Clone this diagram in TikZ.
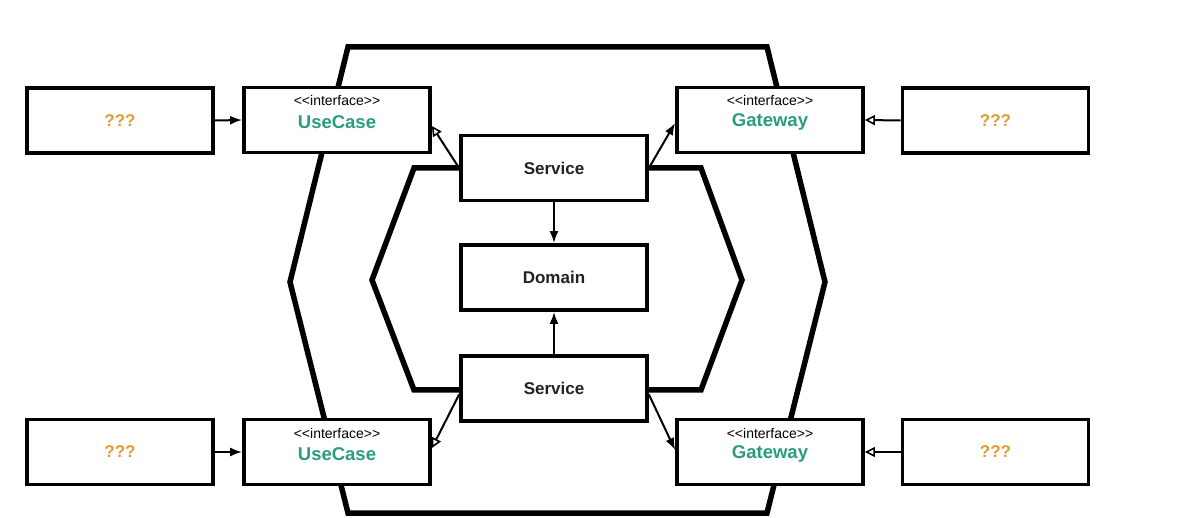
\documentclass[tikz,border=0pt]{standalone}
\usepackage{fontspec}
\setmainfont[Ligatures=NoCommon]{Liberation Sans}
\usetikzlibrary{arrows.meta}
\definecolor{teal}{HTML}{2A9D80}
\definecolor{qorange}{HTML}{E39A2F}
\definecolor{ink}{HTML}{222222}
\newcommand{\ifacelabel}{<\kern0pt<interface>\kern0pt>}
\begin{document}
\begin{tikzpicture}[x=1pt,y=-1pt,
  box/.style={draw=black,line width=3.8pt,fill=white,minimum width=186pt,minimum height=65pt,inner sep=0pt},
  hexa/.style={draw=black,line width=5.5pt,line join=miter},
  filledarr/.style={line width=2pt,-{Latex[length=12pt,width=9pt]}},
  openarr/.style={line width=2pt,-{Triangle[open,length=10pt,width=10pt,line width=1.6pt]}},
  qtext/.style={font=\bfseries\fontsize{17}{19}\selectfont,text=qorange},
  itext/.style={font=\fontsize{14}{15}\selectfont,text=black},
  ntext/.style={font=\bfseries\fontsize{18.5}{20}\selectfont,text=teal},
  stext/.style={font=\bfseries\fontsize{17}{19}\selectfont,text=ink}]
\useasboundingbox[fill=white] (0,0) rectangle (1192,518);
% hexagons
\draw[hexa] (348,47) -- (767,47) -- (825,282) -- (767,513) -- (348,513) -- (290,282) -- cycle;
\draw[hexa] (414,168) -- (701,168) -- (742,280) -- (701,390) -- (414,390) -- (372,280) -- cycle;
% boxes
\node[box] (q1) at (120,120.5) {};
\node[qtext] at (q1.center) {???};
\node[box] (uc1) at (337,120) {};
\node[itext] at (337,101) {\ifacelabel};
\node[ntext] at (337,122) {UseCase};
\node[box] (gw1) at (770,120) {};
\node[itext] at (770,101) {\ifacelabel};
\node[ntext] at (770,122) {Gateway};
\node[box] (q2) at (995.5,120.5) {};
\node[qtext] at (q2.center) {???};
\node[box] (s1) at (554,168) {};
\node[stext] at (s1.center) {Service};
\node[box] (dom) at (554,277.5) {};
\node[stext] at (dom.center) {Domain};
\node[box] (s2) at (554,388.5) {};
\node[stext] at (s2.center) {Service};
\node[box] (q3) at (120,452) {};
\node[qtext] at (q3.center) {???};
\node[box] (uc2) at (337,452) {};
\node[itext] at (337,433) {\ifacelabel};
\node[ntext] at (337,454) {UseCase};
\node[box] (gw2) at (770,452) {};
\node[itext] at (770,433) {\ifacelabel};
\node[ntext] at (770,454) {Gateway};
\node[box] (q4) at (995.5,452) {};
\node[qtext] at (q4.center) {???};
% connectors
\draw[filledarr] (q1.east) -- (uc1.west);
\draw[filledarr] (q3.east) -- (uc2.west);
\draw[openarr] (q2.west) -- (gw1.east);
\draw[openarr] (q4.west) -- (gw2.east);
\draw[filledarr] (s1.south) -- (dom.north);
\draw[filledarr] (s2.north) -- (dom.south);
\draw[openarr] (s1.west) -- ([yshift=-6pt]uc1.east);
\draw[filledarr] (s1.east) -- ([yshift=-3pt]gw1.west);
\draw[openarr] ([yshift=-6pt]s2.west) -- ([yshift=4pt]uc2.east);
\draw[filledarr] ([yshift=-6pt]s2.east) -- ([yshift=2pt]gw2.west);
\end{tikzpicture}
\end{document}
